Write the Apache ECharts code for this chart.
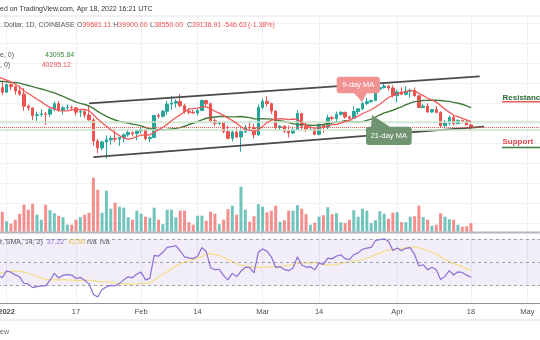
<!DOCTYPE html>
<html><head><meta charset="utf-8">
<script src="https://cdn.jsdelivr.net/npm/echarts@6/dist/echarts.min.js"></script>
<style>html,body{margin:0;padding:0;background:#fff}#c{width:540px;height:340px}</style>
</head><body><div id="c"></div>
<script>
// ---------- DATA (daily BTC/USD, Dec 30 2021 .. Apr 18 2022) ----------
const firstDay = '2021-12-30';
const lastAxisDay = '2022-05-04';
const open = [46470,47140,
 46210,47730,47310,46460,45830,43430,43080,41560,41730,41870,41830,42740,43920,42590,43100,43180,43090,42220,42370,41660,40680,36460,35070,36280,36690,36960,36830,37180,37710,38170,37920,
 38480,38740,36950,37150,41570,41410,42410,43840,44040,44370,43510,42390,42200,42070,42540,44560,43890,40520,40000,40090,38350,37010,38250,37260,38330,39210,39110,37700,
 43180,44420,43920,42460,39150,39400,38420,38060,38740,41980,39440,38730,38810,37790,39670,39280,41140,40950,41800,42200,41280,41020,42370,42890,43960,44330,44540,46830,47130,47460,47070,
 45540,46280,45810,46420,46600,45500,43170,43440,42250,42760,42160,39530,40070,41150,39940,40550,40390,39681.11];
const high = [47900,48550,
 47950,47990,47570,47510,47070,43750,43150,42300,42790,42250,43100,44350,44460,43450,43800,43480,43200,42700,42600,43500,41100,36850,36500,37550,37550,38920,37230,38000,38720,38360,38740,
 39270,38840,37390,41720,41940,42660,44500,45490,44800,45850,43920,43000,42750,42880,44750,44570,44190,40960,40460,40140,39480,38440,39260,39000,39700,40300,39850,43800,
 44950,45400,44100,42500,39650,39680,39550,39370,42600,42000,40250,39480,39320,39950,39870,41720,41480,42330,42400,42300,41540,43370,43030,44230,45090,44790,46940,48190,48100,47700,47600,
 46700,47200,47440,46890,47200,45500,43900,43970,42800,43420,42420,40690,41550,41500,40870,40710,40600,39900];
const low = [46060,45680,
 46210,46650,45700,45500,42500,42480,40610,40500,41270,39650,41270,42450,42300,41740,42600,42600,41550,41270,41080,40550,35500,34020,34600,32920,35700,36240,35510,36160,37310,37370,36650,
 38010,36630,36260,37070,40970,41130,41680,42670,43140,43210,41950,41760,41870,41570,42440,43330,40080,39470,39640,38020,36800,36360,37050,34320,38030,38580,37000,37460,
 42850,43330,41850,38600,38580,38090,37160,37880,38660,38550,38250,38670,37590,37580,38120,38860,40530,40150,41540,40930,40500,40900,41750,42600,43600,44080,44440,46660,46940,46560,45220,
 44250,45640,45540,45120,45380,43120,43010,42110,42130,42120,39200,39240,39560,39560,39770,40030,39550,38550];
const close = [47140,46210,
 47730,47310,46460,45830,43430,43080,41560,41730,41870,41830,42740,43920,42590,43100,43180,43090,42220,42370,41660,40680,36460,35070,36280,36690,36960,36830,37180,37710,38170,37920,38480,
 38740,36950,37150,41570,41410,42410,43840,44040,44370,43510,42390,42200,42070,42540,44560,43890,40520,40000,40090,38350,37010,38250,37260,38330,39210,39110,37700,43180,
 44420,43920,42460,39150,39400,38420,38060,38740,41980,39440,38730,38810,37790,39670,39280,41140,40950,41800,42200,41280,41020,42370,42890,43960,44330,44540,46830,47130,47460,47070,45540,
 46280,45810,46420,46600,45500,43170,43440,42250,42760,42160,39530,40070,41150,39940,40550,40390,39680,39136.91];
// volume, thousands of BTC
const volumeK = [29,20,
 10.5,8,12,18,27,22,28,17,12,27,21.5,18.5,16,14.5,7,7,12,14.5,17,19,54,42,19,41,23,29,25,24,14.5,12,21,
 18,15,14,24,12,7.5,22,22,14.5,21,21,9.5,7,16,16,11,20,18,7.5,12,22.5,26,17,45,22,10,15.5,27.5,
 25,19.5,21,26,10,11.5,21,21,26.5,23,17.5,7,9,15,16.5,24.5,17.5,18.5,9.5,8.5,12,21.5,15,23,21,8.5,11.5,20.5,18,13,19,
 19.5,9.5,9.5,15,15.5,26,14.5,12,6,7,18.5,15,12.5,12,7,5,5.5,8.5];
// closes before the visible window (warm-up for the moving averages and RSI)
const priorClose = [65500,63610,60090,60360,56880,58080,59720,58680,56280,57560,57160,58960,53730,54720,57270,57810,56950,
 57200,56510,53600,49200,49400,50540,50620,50490,47600,47140,49390,50100,46720,48380,48880,47650,46210,46850,46700,46880,49000,48600,50820,50430,50810,50640,50700,47540,46470];
const tickDates = ['2022-01-01','2022-01-17','2022-02-01','2022-02-14','2022-03-01','2022-03-14','2022-04-01','2022-04-18','2022-05-01'];
const tickLabels = ['2022','17','Feb','14','Mar','14','Apr','18','May'];
const priceTicks = {min: 20000, max: 60000, step: 4000};
const trendLines = [[['2022-01-20',43990],['2022-04-20',49370]],[['2022-01-21',33250],['2022-04-21',39320]]];
const hLines = [40260, 38660];
const lastPrice = 39136.91;
const rsiLevels = [70, 50, 30];

// ---------- build ----------
const cats = [];
for (let d = Date.parse(firstDay); d <= Date.parse(lastAxisDay); d += 86400000) cats.push(new Date(d).toISOString().slice(0,10));
const candles = open.map((o,i)=>[o, close[i], low[i], high[i]]);
function sma(src, n){ return src.map((v,i)=>{ if(i<n-1) return null; let s=0; for(let k=i-n+1;k<=i;k++){ if(src[k]==null) return null; s+=src[k]; } return s/n; }); }
function rsi(src, n){ const out=src.map(()=>null); let g=0,l=0;
  for(let i=1;i<=n;i++){const d=src[i]-src[i-1]; if(d>0) g+=d; else l-=d;} g/=n; l/=n; out[n]=100-100/(1+g/l);
  for(let i=n+1;i<src.length;i++){const d=src[i]-src[i-1]; g=(g*(n-1)+Math.max(d,0))/n; l=(l*(n-1)+Math.max(-d,0))/n; out[i]=l===0?100:100-100/(1+g/l);} return out; }
const allClose = priorClose.concat(close), off = priorClose.length;
const ma9 = sma(allClose,9).slice(off), ma21 = sma(allClose,21).slice(off);
const rsiAll = rsi(allClose,14), rsiMaAll = sma(rsiAll,14);
const rsiVals = rsiAll.slice(off), rsiMa = rsiMaAll.slice(off);

const UP='#26a69a', DN='#ef5350';
const FONT='"Liberation Sans", Arial, sans-serif';
const GX = {left:-2.08, width:542.5};
const isTick = (i,v)=>tickDates.indexOf(v)>=0;

const chart = echarts.init(document.getElementById('c'));
function T(x,y,text,fill,size,weight,align){ return {type:'text',x:x,y:y,silent:true,z:50,style:{text:text,fill:fill,font:(weight||'normal')+' '+(size||7)+'px '+FONT,textAlign:align||'left',textVerticalAlign:'middle'}}; }
function RT(x,y,text,rich){ return {type:'text',x:x,y:y,silent:true,z:50,style:{text:text,rich:rich,font:'7px '+FONT,textVerticalAlign:'middle'}}; }
function L(x1,y1,x2,y2,c,w){ return {type:'line',silent:true,z:40,shape:{x1:x1,y1:y1,x2:x2,y2:y2},style:{stroke:c,lineWidth:w}}; }
const hdrRich = {g:{fill:'#555',fontSize:7,fontFamily:FONT},r:{fill:DN,fontSize:7,fontFamily:FONT}};

const graphic = [
  T(0,9,'ed on TradingView.com, Apr 18, 2022 16:21 UTC','#333',7),
  L(0,16,540,16,'#e0e3eb',1),
  T(0,25,'. Dollar, 1D, COINBASE','#555',7),
  RT(77,25,'{g|O}{r|39681.11}',hdrRich),
  RT(113.3,25,'{g|H}{r|39900.00}',hdrRich),
  RT(150,25,'{g|L}{r|38550.00}',hdrRich),
  RT(187,25,'{g|C}{r|39136.91}',hdrRich),
  T(223,25,'-546.63',DN,7),
  T(248,25,'(-1.38%)',DN,7),
  T(0,55,'e, 0)','#555',7), T(45,55,'43095.84','#3d8b40',7),
  T(0,65,', 0)','#555',7), T(41.7,65,'40295.12',DN,7),
  // callouts
  {type:'polygon',silent:true,z:45,shape:{points:[[354,93],[367,93],[362,102]]},style:{fill:'#f29393'}},
  {type:'rect',silent:true,z:45,shape:{x:336.7,y:76.7,width:43.3,height:16.6,r:3},style:{fill:'#f29393'}},
  T(358.3,85.2,'9-day MA','#fff',7.5,'normal','center'),
  {type:'polygon',silent:true,z:45,shape:{points:[[372,115],[371,127],[390,127]]},style:{fill:'#6f946f'}},
  {type:'rect',silent:true,z:45,shape:{x:366,y:126.7,width:45.7,height:18.3,r:3},style:{fill:'#6f946f'}},
  T(388.8,136,'21-day MA','#fff',7.5,'normal','center'),
  T(502.5,97.3,'Resistance','#2e6b33',8,'bold'),
  L(502,101.8,540,101.8,'#ee5a5a',1.5),
  T(502.5,141.3,'Support','#e4474c',8,'bold'),
  L(502,147.6,540,147.6,'#3c7d3c',1.5),
  L(0,232.6,540,232.6,'#b2b5be',2),
  T(0,241.7,'r, SMA, 14; 2)','#555',7),
  T(46.7,241.7,'37.22','#8b6fd6',7),
  T(68,241.7,'42.60','#e8c54f',7),
  T(87,241.7,'n/a','#555',7),
  T(100,241.7,'n/a','#555',7),
  L(0,320,540,320,'#eeeeee',2.5),
  T(0,332,'ew','#666',7)
];

const option = {
  animation:false,
  backgroundColor:'#ffffff',
  graphic: graphic,
  grid:[
    Object.assign({top:23.3,height:200,outerBoundsMode:'none',containLabel:false},GX),
    Object.assign({top:131.7,height:100,outerBoundsMode:'none',containLabel:false},GX),
    Object.assign({top:227.35,height:75.75,outerBoundsMode:'none',containLabel:false},GX),
    Object.assign({top:16,height:287,outerBoundsMode:'none',containLabel:false},GX)
  ],
  xAxis:[0,1,2].map(i=>({type:'category',gridIndex:i,data:cats,boundaryGap:false,show:false})).concat([{
    type:'category',gridIndex:3,data:cats,boundaryGap:false,
    axisLine:{show:true,lineStyle:{color:'#8f929b',width:1.2}},
    axisTick:{show:false},
    axisLabel:{interval:isTick,margin:5,color:'#4d4d4d',fontSize:7.5,fontFamily:FONT,
      formatter:v=>{const k=tickDates.indexOf(v); if(k<0) return ''; return k===0?'{b|'+tickLabels[k]+'}':tickLabels[k];},
      rich:{b:{fontWeight:'bold',fontSize:7.5,fontFamily:FONT,color:'#4d4d4d'}}},
    splitLine:{show:true,interval:isTick,lineStyle:{color:'#eef0f5',width:1}}
  }]),
  yAxis:[
    {type:'value',gridIndex:0,min:priceTicks.min,max:priceTicks.max,interval:priceTicks.step,axisLine:{show:false},axisTick:{show:false},axisLabel:{show:false},splitLine:{show:true,lineStyle:{color:'#f0f2f6',width:1}}},
    {type:'value',gridIndex:1,min:0,max:100,show:false,splitLine:{show:false}},
    {type:'value',gridIndex:2,min:15,max:80,show:false,splitLine:{show:false}},
    {type:'value',gridIndex:3,min:0,max:1,show:false,splitLine:{show:false}}
  ],
  series:[
    {type:'bar',xAxisIndex:1,yAxisIndex:1,barWidth:3,z:1,silent:true,
     data:volumeK.map((v,i)=>({value:v,itemStyle:{color: close[i]>=open[i]?'rgba(38,166,154,0.65)':'rgba(239,83,80,0.65)'}}))},
    {type:'candlestick',xAxisIndex:0,yAxisIndex:0,barWidth:3,z:3,silent:true,data:candles,
     itemStyle:{color:UP,color0:DN,borderColor:UP,borderColor0:DN,borderWidth:1},
     markLine:{silent:true,symbol:['none','none'],animation:false,label:{show:false},
       data: trendLines.map(t=>[{coord:t[0],lineStyle:{color:'#4a4a4a',width:1.7,type:'solid'}},{coord:t[1]}])
        .concat(hLines.map(v=>({yAxis:v,lineStyle:{color:'#cde6cd',width:1.5,type:'solid'}})))
        .concat([{yAxis:lastPrice,lineStyle:{color:DN,width:1,type:'dotted'}}])}
    },
    {type:'line',xAxisIndex:0,yAxisIndex:0,data:ma21,symbol:'none',z:4,silent:true,lineStyle:{color:'#437a3c',width:1.4}},
    {type:'line',xAxisIndex:0,yAxisIndex:0,data:ma9,symbol:'none',z:5,silent:true,lineStyle:{color:'#f05a5a',width:1.3}},
    {type:'line',xAxisIndex:2,yAxisIndex:2,data:rsiMa,symbol:'none',z:4,silent:true,lineStyle:{color:'#f6dd85',width:1.2},
     markArea:{silent:true,itemStyle:{color:'rgba(126,87,194,0.1)'},data:[[{yAxis:30},{yAxis:70}]]},
     markLine:{silent:true,symbol:['none','none'],label:{show:false},lineStyle:{color:'#9ea1aa',width:1,type:[3,3]},data:rsiLevels.map(v=>({yAxis:v}))}},
    {type:'line',xAxisIndex:2,yAxisIndex:2,data:rsiVals,symbol:'none',z:5,silent:true,lineStyle:{color:'#8b6fd6',width:1.2}}
  ]
};
chart.setOption(option);
</script></body></html>
